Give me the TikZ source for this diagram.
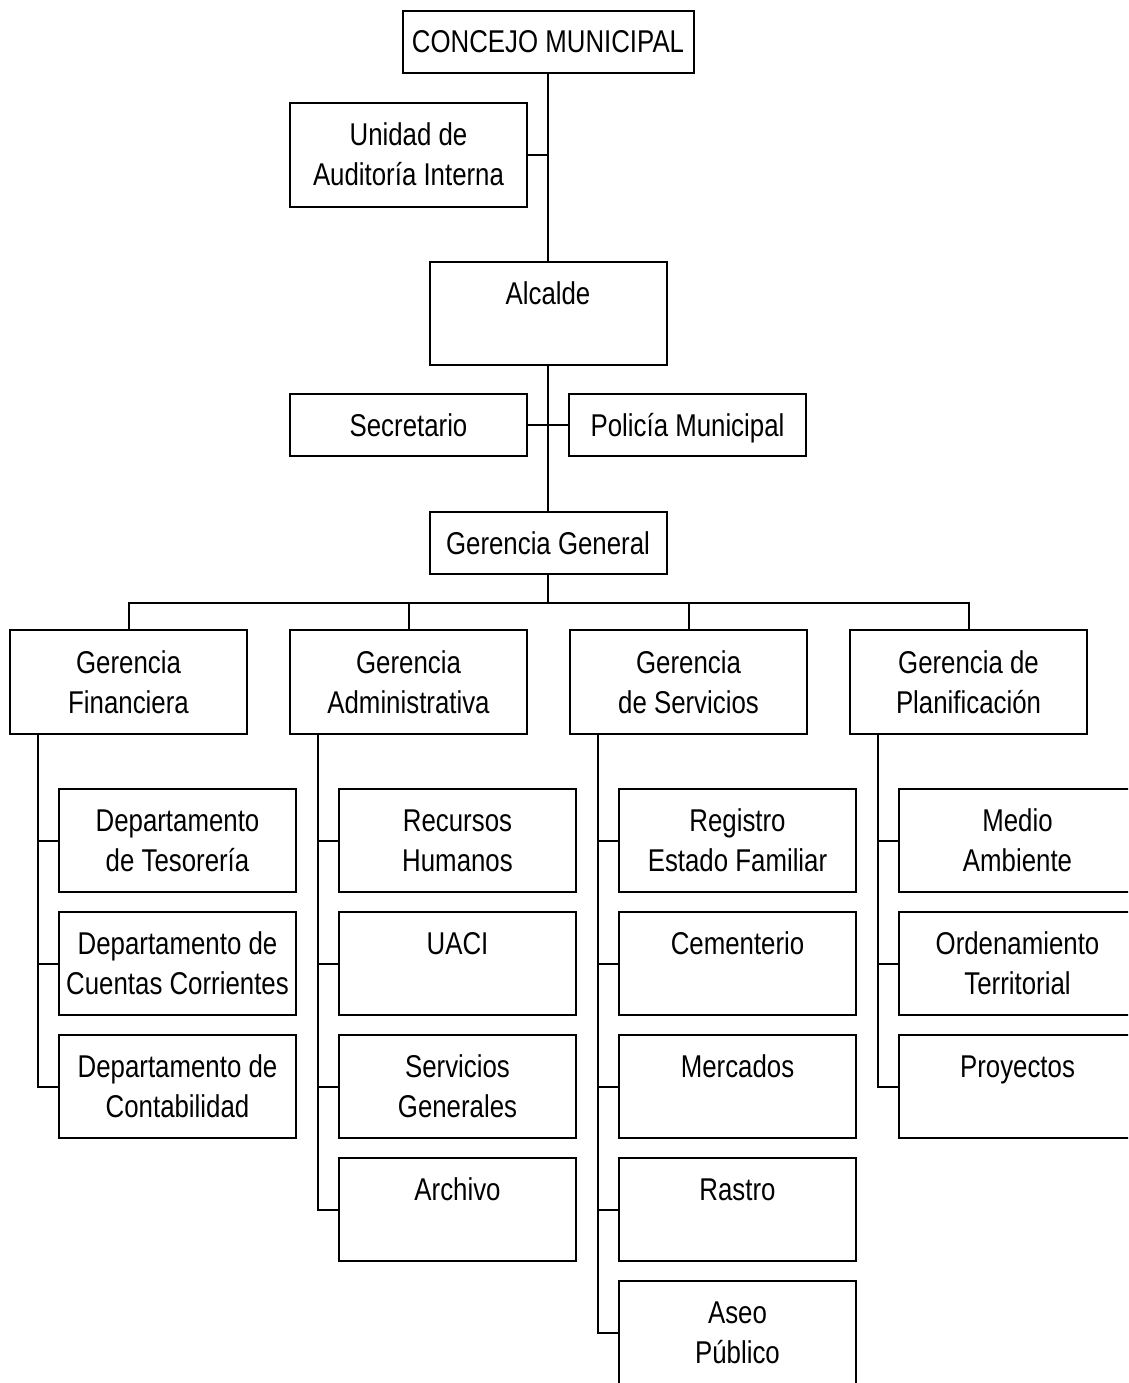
\documentclass[tikz,border=0pt]{standalone}
\usepackage{fontspec}
\setmainfont{Liberation Sans}[FakeStretch=0.82]
\begin{document}
% fixed-height rows so every box places its lines the same way
\newcommand{\rowstrut}{\rule[-9pt]{0pt}{40pt}}
\newcommand{\oneline}[1]{{\renewcommand{\arraystretch}{0}\begin{tabular}{@{}c@{}}\rowstrut#1\end{tabular}}}
\newcommand{\twolines}[2]{{\renewcommand{\arraystretch}{0}\begin{tabular}{@{}c@{}}\rowstrut#1\\\rowstrut#2\end{tabular}}}
\begin{tikzpicture}[x=1pt,y=-1pt,
  orgbox/.style={draw, line width=2pt, minimum width=237pt, inner sep=0pt,
                 font=\fontsize{31.5pt}{40pt}\selectfont},
  flat/.style={orgbox, minimum height=62pt},
  tall/.style={orgbox, minimum height=104pt},
  unit/.style={orgbox, minimum height=103pt},
  link/.style={line width=2pt}]
\useasboundingbox (0,0) rectangle (1128,1383);
\fill[white] (0,0) rectangle (1128,1383);
\clip (0,0) rectangle (1128,1383);

% top of the hierarchy
\node[flat, minimum width=291pt] (concejo) at (548,42) {\oneline{CONCEJO MUNICIPAL}};
\node[tall] (auditoria) at (408.5,154.7) {\twolines{Unidad de}{Auditoría Interna}};
\node[unit] (alcalde) at (548,313.5) {\twolines{Alcalde}{~}};
\node[flat] (secretario) at (408.5,425.3) {\oneline{Secretario}};
\node[flat] (policia) at (687.5,425.3) {\oneline{Policía Municipal}};
\node[flat] (gg) at (548,543) {\oneline{Gerencia General}};

% management level
\node[tall] (gfin) at (128.5,682) {\twolines{Gerencia}{Financiera}};
\node[tall] (gadm) at (408.5,682) {\twolines{Gerencia}{Administrativa}};
\node[tall] (gser) at (688.5,682) {\twolines{Gerencia}{de Servicios}};
\node[tall] (gpla) at (968.5,682) {\twolines{Gerencia de}{Planificación}};

% departments
\node[unit] (f1) at (177.5,840.5) {\twolines{Departamento}{de Tesorería}};
\node[unit] (f2) at (177.5,963.5) {\twolines{Departamento de}{Cuentas Corrientes}};
\node[unit] (f3) at (177.5,1086.5) {\twolines{Departamento de}{Contabilidad}};

\node[unit] (a1) at (457.5,840.5) {\twolines{Recursos}{Humanos}};
\node[unit] (a2) at (457.5,963.5) {\twolines{UACI}{~}};
\node[unit] (a3) at (457.5,1086.5) {\twolines{Servicios}{Generales}};
\node[unit] (a4) at (457.5,1209.5) {\twolines{Archivo}{~}};

\node[unit] (s1) at (737.5,840.5) {\twolines{Registro}{Estado Familiar}};
\node[unit] (s2) at (737.5,963.5) {\twolines{Cementerio}{~}};
\node[unit] (s3) at (737.5,1086.5) {\twolines{Mercados}{~}};
\node[unit] (s4) at (737.5,1209.5) {\twolines{Rastro}{~}};
\node[unit] (s5) at (737.5,1332.5) {\twolines{Aseo}{Público}};

\node[unit] (p1) at (1017.5,840.5) {\twolines{Medio}{Ambiente}};
\node[unit] (p2) at (1017.5,963.5) {\twolines{Ordenamiento}{Territorial}};
\node[unit] (p3) at (1017.5,1086.5) {\twolines{Proyectos}{~}};

% connectors of the upper chain
\draw[link] (concejo.south) -- (alcalde.north);
\draw[link] (auditoria.east) -- (auditoria.east -| concejo.south);
\draw[link] (alcalde.south) -- (gg.north);
\draw[link] (secretario.east) -- (policia.west);

% bus to the four managements
\coordinate (bus) at (548,603);
\draw[link] (gg.south) -- (bus);
\draw[link] (gfin.north) |- (bus) -| (gpla.north);
\draw[link] (gadm.north) -- (gadm.north |- bus);
\draw[link] (gser.north) -- (gser.north |- bus);

% department trunks
\coordinate (tf) at ([xshift=28.5pt]gfin.south west);
\coordinate (ta) at ([xshift=28.5pt]gadm.south west);
\coordinate (ts) at ([xshift=28.5pt]gser.south west);
\coordinate (tp) at ([xshift=28.5pt]gpla.south west);

\draw[link] (tf) |- (f3.west);
\draw[link] (tf |- f1.west) -- (f1.west);
\draw[link] (tf |- f2.west) -- (f2.west);

\draw[link] (ta) |- (a4.west);
\foreach \n in {a1,a2,a3} \draw[link] (ta |- \n.west) -- (\n.west);

\draw[link] (ts) |- (s5.west);
\foreach \n in {s1,s2,s3,s4} \draw[link] (ts |- \n.west) -- (\n.west);

\draw[link] (tp) |- (p3.west);
\foreach \n in {p1,p2} \draw[link] (tp |- \n.west) -- (\n.west);
\end{tikzpicture}
\end{document}
